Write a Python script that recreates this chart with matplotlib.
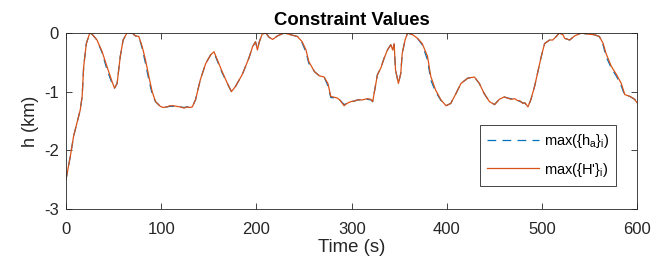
import matplotlib

matplotlib.use("Agg")
import matplotlib.pyplot as plt

# ---------------------------------------------------------------------------
# Data
# ---------------------------------------------------------------------------
time_h = [0, 4.6, 8, 15, 17, 18.6, 21.4, 25, 27.4, 32.6, 38, 43, 48.4, 51, 53.7,
          57, 60, 64, 69.5, 73, 76.5, 80, 83.5, 87, 90.5, 94,
          99, 102, 106, 109, 113, 116, 120, 124, 127, 130,
          132.6, 136, 141, 146.7, 152, 155.4, 159, 164, 169.5, 173.7, 178, 185,
          192, 196, 199, 201, 203, 206, 210, 213, 217, 222, 229, 236, 243, 248,
          252, 255, 261, 266, 271, 275, 278,
          285, 288, 292, 295, 299, 303, 306, 311, 316.5, 320, 322,
          323.5, 327, 330.5, 334, 337.5, 341, 343, 344.5, 346, 349, 351.5, 353,
          356, 358.6, 364, 369, 374, 379.6, 383, 388, 393.7, 399, 404, 409.5,
          414.7, 421.8, 428.8, 434, 439, 444.6,
          450, 455, 460, 464, 467, 471, 474, 477, 479.6, 482,
          485, 488, 492, 495.4, 499, 502.5, 507.7, 511, 514.7, 518, 521.8, 523.5,
          528.8, 534, 541, 548, 555, 560, 564, 567, 572.6, 578, 583, 586.7, 592,
          597, 600]

# max({H'}_i), the orange trace
h_prime = [-2.5, -2.1, -1.76, -1.31, -1.08, -0.57, -0.18, 0.0, -0.02, -0.12,
           -0.32, -0.57, -0.83, -0.94, -0.86, -0.40, -0.12, 0.0, 0.0, -0.05,
           -0.06, -0.23, -0.46, -0.74, -1.0, -1.17,
           -1.25, -1.27, -1.26, -1.24, -1.24, -1.25, -1.26, -1.28, -1.26, -1.27,
           -1.26, -1.14, -0.80, -0.52, -0.37, -0.32, -0.46, -0.66, -0.86, -1.0,
           -0.91, -0.71, -0.43, -0.23, -0.15, -0.29, -0.15, -0.02, 0.0, -0.07,
           -0.11, -0.05, 0.0, -0.03, -0.06, -0.15, -0.29, -0.49, -0.66, -0.73,
           -0.75, -0.86, -1.08,
           -1.11, -1.15, -1.24, -1.20, -1.17, -1.16, -1.14, -1.14, -1.12, -1.13,
           -1.17,
           -1.03, -0.71, -0.60, -0.43, -0.29, -0.20, -0.29, -0.18, -0.63, -0.86,
           -0.69, -0.35, -0.12, 0.0, -0.03, -0.09, -0.18, -0.40, -0.74, -0.97,
           -1.14, -1.24, -1.20, -1.03, -0.86, -0.77, -0.75, -0.86, -1.03, -1.17,
           -1.22, -1.13, -1.09, -1.11, -1.13, -1.12, -1.15, -1.16, -1.20, -1.19,
           -1.26, -1.14, -0.91, -0.66, -0.40, -0.18, -0.12, -0.12, -0.06, 0.0,
           -0.03, -0.09, -0.12, -0.05, 0.0, -0.02, -0.03, -0.06, -0.18, -0.35,
           -0.57, -0.71, -0.86, -1.05, -1.08, -1.13, -1.20]

# max({h_a}_i), the blue dashed trace (mostly hidden under the orange one)
h_a = [-2.5, -2.1, -1.76, -1.31, -1.08, -0.57, -0.18, 0.0, -0.02, -0.12,
       -0.34, -0.62, -0.86, -0.94, -0.86, -0.40, -0.12, 0.0, 0.0, -0.05,
       -0.06, -0.26, -0.52, -0.80, -1.04, -1.17,
       -1.25, -1.26, -1.26, -1.25, -1.25, -1.25, -1.26, -1.27, -1.26, -1.26,
       -1.26, -1.14, -0.80, -0.52, -0.37, -0.34, -0.48, -0.68, -0.86, -1.0,
       -0.91, -0.71, -0.43, -0.23, -0.15, -0.27, -0.15, -0.02, 0.0, -0.07,
       -0.11, -0.05, 0.0, -0.03, -0.06, -0.17, -0.33, -0.52, -0.66, -0.73,
       -0.75, -0.90, -1.10,
       -1.11, -1.15, -1.22, -1.20, -1.17, -1.16, -1.14, -1.14, -1.13, -1.14,
       -1.17,
       -1.03, -0.71, -0.60, -0.43, -0.29, -0.20, -0.29, -0.20, -0.63, -0.86,
       -0.69, -0.35, -0.12, 0.0, -0.03, -0.09, -0.20, -0.46, -0.80, -1.0,
       -1.15, -1.24, -1.20, -1.03, -0.86, -0.77, -0.75, -0.86, -1.03, -1.17,
       -1.22, -1.13, -1.09, -1.11, -1.12, -1.13, -1.15, -1.17, -1.19, -1.20,
       -1.26, -1.14, -0.91, -0.66, -0.40, -0.18, -0.12, -0.12, -0.06, 0.0,
       -0.03, -0.09, -0.12, -0.05, 0.0, -0.02, -0.03, -0.06, -0.21, -0.40,
       -0.60, -0.74, -0.90, -1.07, -1.08, -1.13, -1.20]

x_ticks = [0, 100, 200, 300, 400, 500, 600]
y_ticks = [-3, -2, -1, 0]

# ---------------------------------------------------------------------------
# Style (MATLAB-ish)
# ---------------------------------------------------------------------------
BLUE = "#0072BD"
ORANGE = "#D95319"
AXIS = "#262626"

plt.rcParams.update(
    {
        "font.family": ["Liberation Sans", "DejaVu Sans"],
        "mathtext.fontset": "custom",
        "mathtext.rm": "Liberation Sans",
        "mathtext.it": "Liberation Sans",
        "axes.unicode_minus": False,  # plain hyphen like the original
        "xtick.direction": "in",
        "ytick.direction": "in",
        "xtick.top": True,
        "ytick.right": True,
    }
)

fig = plt.figure(figsize=(6.65, 2.65), dpi=100)
ax = fig.add_axes([0.0992, 0.2113, 0.8594, 0.6642])

ax.plot(time_h, h_a, color=BLUE, lw=0.9, ls=(0, (7, 5)), label=r"max({h$_{a}$}$_{i}$)")
ax.plot(time_h, h_prime, color=ORANGE, lw=0.9, label=r"max({H'}$_{i}$)")

ax.set_xlim(0, 600)
ax.set_ylim(-3, 0)
ax.set_xticks(x_ticks)
ax.set_yticks(y_ticks)
ax.tick_params(colors=AXIS, labelsize=12, length=4, width=0.6)
ax.tick_params(axis="x", pad=9)
ax.tick_params(axis="y", pad=5)
for sp in ax.spines.values():
    sp.set_color(AXIS)
    sp.set_linewidth(0.6)

ax.set_title("Constraint Values", fontsize=13.3, fontweight="bold", pad=6)
ax.set_xlabel("Time (s)", fontsize=13.4, color=AXIS, labelpad=2)
ax.set_ylabel("h (km)", fontsize=13, color=AXIS, labelpad=4)

leg = ax.legend(
    loc="lower right",
    bbox_to_anchor=(0.976, 0.09),
    fontsize=10.5,
    fancybox=False,
    framealpha=1,
    edgecolor=AXIS,
    handlelength=3.6,
    handletextpad=0.3,
    borderpad=0.5,
    labelspacing=0.7,
)
leg.get_frame().set_linewidth(0.6)

fig.savefig("out.png", dpi=100)
